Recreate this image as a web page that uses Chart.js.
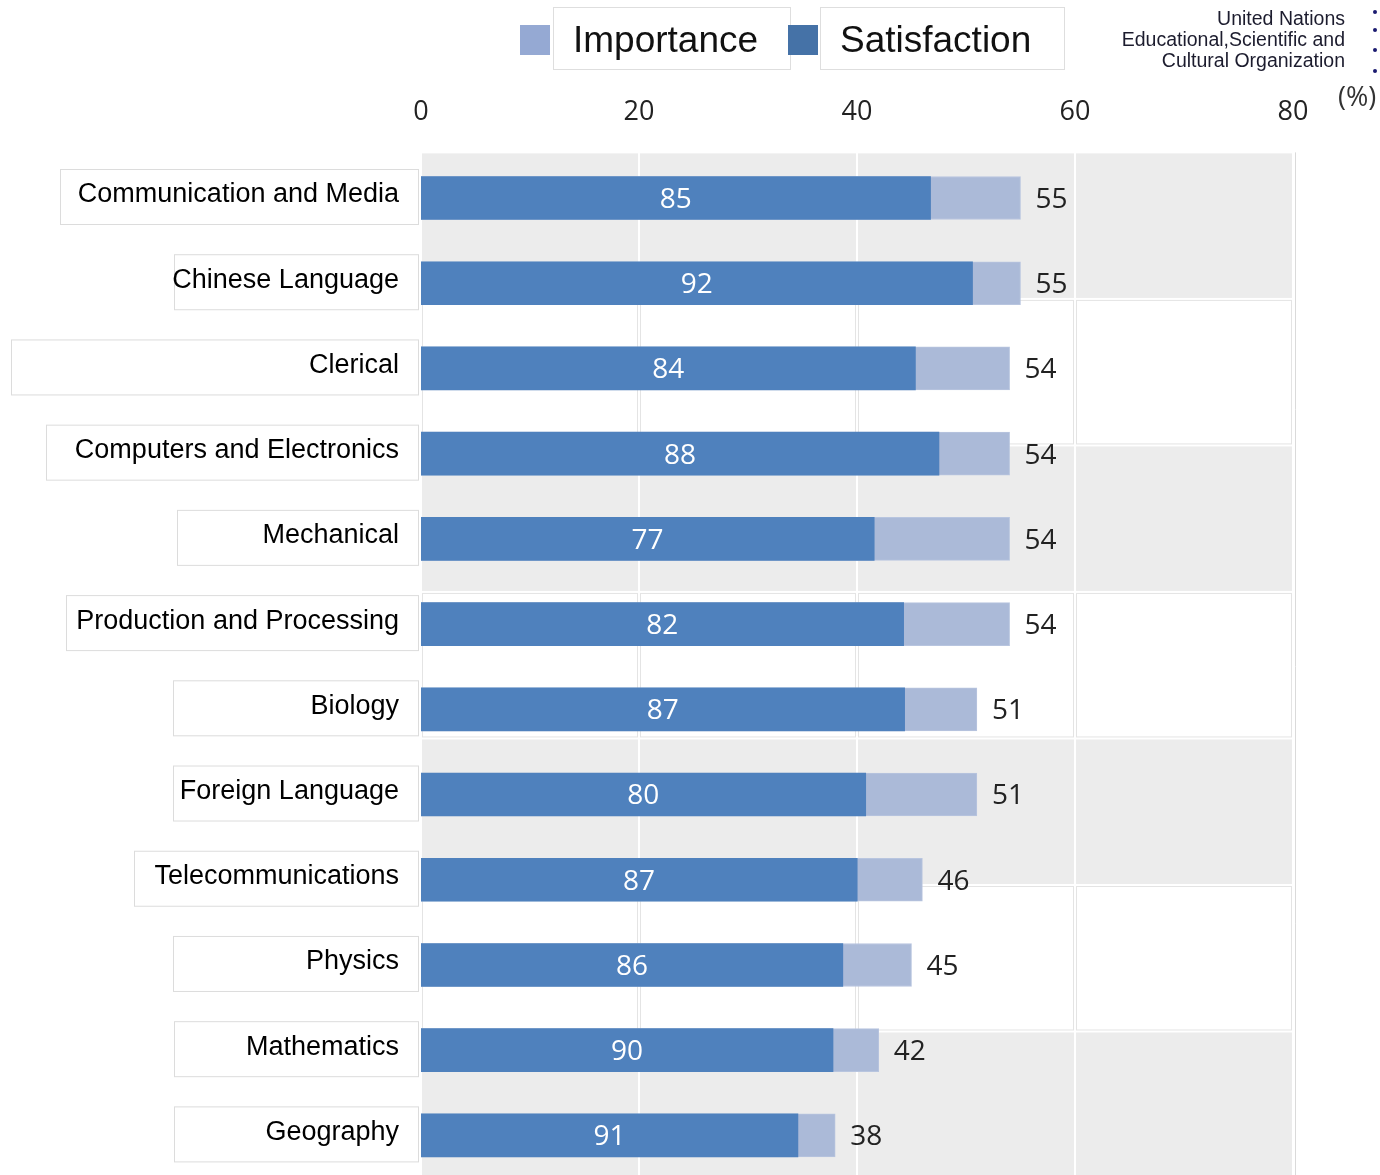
<!DOCTYPE html>
<html lang="en">
<head>
  <meta charset="UTF-8"/>
  <title>Importance and Satisfaction by Subject</title>
  <script src="https://cdn.jsdelivr.net/npm/chart.js"></script>
  <style>
    html, body { margin: 0; padding: 0; background: #fff; overflow: hidden; }
    #wrap { position: relative; width: 1380px; height: 1175px; }
    #chart { position: absolute; left: 0; top: 0; }
    .legend-swatch { position: absolute; top: 25px; width: 30px; height: 30px; }
    .legend-box {
      position: absolute; top: 7px; height: 63px;
      border: 1px solid #dedede; background: #fff;
      font: 37px "Liberation Sans", Arial, sans-serif; color: #111;
      line-height: 63px; padding-left: 19px; box-sizing: border-box;
    }
    #org {
      position: absolute; right: 35px; top: 8px; text-align: right;
      font: 19.5px "Liberation Sans", Arial, sans-serif; color: #1c1c2e; line-height: 21px;
    }
    .dot { position: absolute; left: 1373px; width: 4px; height: 4px; border-radius: 2px; background: #1b1b70; }
    #unit { position: absolute; left: 1338px; top: 77px; font: 27px "Open Sans", sans-serif; color: #333; }
  </style>
</head>
<body>
<div id="wrap">
  <canvas id="chart" width="1380" height="1180"></canvas>

  <!-- Legend -->
  <div class="legend-swatch" style="left:520px; background:#95a9d3;"></div>
  <div class="legend-box" style="left:553px; width:238px;">Importance</div>
  <div class="legend-swatch" style="left:788px; background:#4572a7;"></div>
  <div class="legend-box" style="left:820px; width:245px;">Satisfaction</div>

  <div id="org">United Nations<br>Educational,Scientific and<br>Cultural Organization</div>
  <div class="dot" style="top:10px;"></div>
  <div class="dot" style="top:28px;"></div>
  <div class="dot" style="top:48px;"></div>
  <div class="dot" style="top:69px;"></div>
  <div id="unit">(%)</div>
</div>

<script>
  // Data
  const categories = [
    'Communication and Media', 'Chinese Language', 'Clerical', 'Computers and Electronics',
    'Mechanical', 'Production and Processing', 'Biology', 'Foreign Language',
    'Telecommunications', 'Physics', 'Mathematics', 'Geography'
  ];
  const importance   = [55, 55, 54, 54, 54, 54, 51, 51, 46, 45, 42, 38];
  const satisfaction = [85, 92, 84, 88, 77, 82, 87, 80, 87, 86, 90, 91];
  const xTicks = [0, 20, 40, 60, 80];

  // satisfaction is a share of the importance bar
  const satisfiedPart = importance.map((v, i) => v * satisfaction[i] / 100);

  // left edge of each category label frame
  const labelFrameLeft = [60, 174, 11, 46, 177, 66, 173, 173, 134, 173, 174, 174];

  const LIGHT = '#abbad8';
  const DARK = '#4f81bd';

  // Alternating grey / white cell grid behind the bars
  const cellGrid = {
    id: 'cellGrid',
    beforeDatasetsDraw(chart) {
      const { ctx, chartArea: a, scales: { x } } = chart;
      const rows = 7;
      const h = (a.bottom - a.top + 3) / rows;
      const top = a.top - 3;
      ctx.save();
      for (let r = 0; r < rows; r++) {
        const y0 = top + r * h;
        for (let c = 0; c < xTicks.length - 1; c++) {
          const x0 = x.getPixelForValue(xTicks[c]);
          const x1 = x.getPixelForValue(xTicks[c + 1]);
          if (r % 2 === 0) {
            ctx.fillStyle = '#ececec';
            ctx.fillRect(x0 + 1, y0 + 1, x1 - x0 - 2, h - 2);
          } else {
            ctx.strokeStyle = '#e4e4e4';
            ctx.lineWidth = 1;
            ctx.strokeRect(x0 + 1.5, y0 + 1.5, x1 - x0 - 3, h - 3);
          }
        }
      }
      const xr = x.getPixelForValue(xTicks[xTicks.length - 1]) + 2.5;
      ctx.strokeStyle = '#dadada';
      ctx.beginPath();
      ctx.moveTo(xr, top);
      ctx.lineTo(xr, a.bottom + 5);
      ctx.stroke();
      ctx.restore();
    }
  };

  // Value labels on the bars and framed category names
  const barLabels = {
    id: 'barLabels',
    afterDraw(chart) {
      const { ctx, scales: { x, y } } = chart;
      ctx.save();
      categories.forEach((name, i) => {
        const yc = y.getPixelForValue(i);
        const x0 = x.getPixelForValue(0);
        const xd = x.getPixelForValue(satisfiedPart[i]);
        const xl = x.getPixelForValue(importance[i]);

        ctx.font = '28px "Open Sans", sans-serif';
        ctx.textBaseline = 'middle';
        ctx.textAlign = 'center';
        ctx.fillStyle = '#fff';
        ctx.fillText(String(satisfaction[i]), (x0 + xd) / 2, yc + 2);

        ctx.textAlign = 'left';
        ctx.fillStyle = '#222';
        ctx.fillText(String(importance[i]), xl + 15, yc + 2);

        // category name frame
        const left = labelFrameLeft[i];
        ctx.fillStyle = '#fff';
        ctx.fillRect(left, yc - 29, 418 - left, 55);
        ctx.strokeStyle = '#dcdcdc';
        ctx.lineWidth = 1;
        ctx.strokeRect(left + 0.5, yc - 28.5, 418 - left, 55);

        ctx.font = '27px "Liberation Sans", Arial, sans-serif';
        ctx.textAlign = 'right';
        ctx.fillStyle = '#000';
        ctx.fillText(name, 399, yc - 3);
      });
      ctx.restore();
    }
  };

  new Chart(document.getElementById('chart'), {
    type: 'bar',
    data: {
      labels: categories,
      datasets: [
        {
          label: 'Satisfaction',
          data: satisfiedPart,
          backgroundColor: DARK,
          barThickness: 43,
          order: 0
        },
        {
          label: 'Importance',
          data: importance,
          backgroundColor: LIGHT,
          borderColor: '#b8c5df',
          borderWidth: 1,
          barThickness: 43,
          order: 1
        }
      ]
    },
    options: {
      indexAxis: 'y',
      responsive: false,
      devicePixelRatio: 1,
      animation: false,
      grouped: false,
      layout: { padding: { left: 421, right: 87, top: 69, bottom: 2 } },
      plugins: { legend: { display: false }, tooltip: { enabled: false } },
      scales: {
        x: {
          position: 'top',
          min: 0,
          max: 80,
          afterBuildTicks: axis => { axis.ticks = xTicks.map(v => ({ value: v })); },
          grid: { display: false, drawTicks: false },
          border: { display: false },
          ticks: {
            padding: 27,
            color: '#222',
            font: { family: '"Open Sans", sans-serif', size: 27 }
          }
        },
        y: {
          display: false,
          grid: { display: false }
        }
      }
    },
    plugins: [cellGrid, barLabels]
  });
</script>
</body>
</html>
